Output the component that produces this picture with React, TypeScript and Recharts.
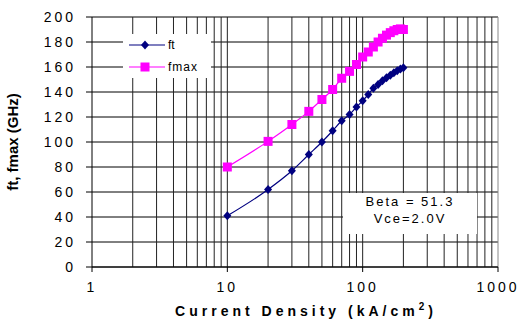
import {
  CartesianGrid,
  Legend,
  Line,
  LineChart,
  ReferenceLine,
  XAxis,
  YAxis,
} from "recharts";

const currentDensity = [10, 20, 30, 40, 50, 60, 70, 80, 90, 100, 110, 120, 130, 140, 150, 160, 170, 180, 190, 200];
const ftValues = [41, 62, 77, 90, 100, 109, 117, 122, 128, 133, 138, 143, 146, 149, 151.5, 153.5, 155.5, 157, 158.5, 159.5];
const fmaxValues = [80, 100.5, 114, 124.5, 134, 142, 151, 156.5, 162, 168, 172, 176, 180, 183, 185.5, 187.5, 189, 190, 190.5, 190];
const xTicks = [1, 10, 100, 1000];
const yTicks = [0, 20, 40, 60, 80, 100, 120, 140, 160, 180, 200];
const gridX = [2, 3, 4, 5, 6, 7, 8, 9, 10, 20, 30, 40, 50, 60, 70, 80, 90, 100, 200, 300, 400, 500, 600, 700, 800, 900];

const FONT = '"Liberation Sans", Arial, sans-serif';
const FT_COLOR = "#000080";
const FMAX_COLOR = "#FF00FF";

const data = currentDensity.map((x, i) => ({ x, ft: ftValues[i], fmax: fmaxValues[i] }));

function Diamond(p: any) {
  const { cx, cy, index } = p;
  return (
    <path
      key={`ft-${index}`}
      d={`M${cx},${cy - 4.5}L${cx + 4},${cy}L${cx},${cy + 4.5}L${cx - 4},${cy}Z`}
      fill={FT_COLOR}
    />
  );
}

function Square(p: any) {
  const { cx, cy, index } = p;
  return <rect key={`fm-${index}`} x={cx - 4.5} y={cy - 4.5} width={9} height={9} fill={FMAX_COLOR} />;
}

function LegendBox() {
  const row = (label: string, color: string, marker: "diamond" | "square", spacing: number) => (
    <div style={{ display: "flex", alignItems: "center", height: 22 }}>
      <svg width={36} height={12} style={{ display: "block" }}>
        <line x1={0} y1={6} x2={36} y2={6} stroke={color} strokeWidth={1.2} />
        {marker === "diamond" ? (
          <path d="M16,1.5L20,6L16,10.5L12,6Z" fill={color} />
        ) : (
          <rect x={11.5} y={1.5} width={9} height={9} fill={color} />
        )}
      </svg>
      <span style={{ marginLeft: 3, fontSize: 12, letterSpacing: spacing, color: "#000" }}>{label}</span>
    </div>
  );
  return (
    <div style={{ width: 88, height: 44, background: "#fff", paddingLeft: 6, boxSizing: "border-box", fontFamily: FONT }}>
      {row("ft", FT_COLOR, "diamond", 0)}
      {row("fmax", FMAX_COLOR, "square", 1)}
    </div>
  );
}

function XLabel(props: any) {
  const { viewBox } = props;
  const cx = viewBox.x + viewBox.width / 2 + 11;
  return (
    <text x={cx} y={316} textAnchor="middle" fontFamily={FONT} fontSize={14} fontWeight="bold" letterSpacing={4} fill="#000">
      Current Density (kA/cm
      <tspan dy={-6} fontSize={10}>2</tspan>
      <tspan dy={6}>)</tspan>
    </text>
  );
}

export default function App() {
  return (
    <div style={{ position: "absolute", left: 0, top: 0, width: 521, height: 320, background: "#fff" }}>
      <LineChart width={521} height={320} data={data} margin={{ top: 17, right: 23, left: 0, bottom: 0 }}>
        <CartesianGrid horizontal vertical={false} stroke="#000" strokeOpacity={1} />
        {gridX.map((v) => (
          <ReferenceLine key={v} x={v} stroke="#222" strokeWidth={1} />
        ))}
        <ReferenceLine x={1000} stroke="#888" strokeWidth={1} />
        <XAxis
          dataKey="x"
          type="number"
          scale="log"
          domain={[1, 1000]}
          ticks={xTicks}
          allowDataOverflow
          height={53}
          tickSize={5}
          tickMargin={10}
          stroke="#000"
          tick={{ fill: "#000", fontSize: 14, fontFamily: FONT, letterSpacing: 3 }}
          label={<XLabel />}
        />
        <YAxis
          type="number"
          domain={[0, 200]}
          ticks={yTicks}
          width={92}
          tickSize={6}
          tickMargin={10}
          stroke="#000"
          tick={{ fill: "#000", fontSize: 14, fontFamily: FONT, letterSpacing: 3 }}
          label={{
            value: "ft, fmax (GHz)",
            angle: -90,
            position: "insideLeft",
            offset: 13,
            style: { fontFamily: FONT, fontSize: 15, fontWeight: "bold", fill: "#000", textAnchor: "middle" },
          }}
        />
        <Legend
          layout="vertical"
          align="center"
          verticalAlign="middle"
          wrapperStyle={{ left: 123, top: 34, width: 88, height: 44 }}
          content={() => <LegendBox />}
        />
        <Line
          type="monotone"
          dataKey="fmax"
          name="fmax"
          stroke={FMAX_COLOR}
          strokeWidth={1.2}
          dot={Square}
          activeDot={false}
          isAnimationActive={false}
        />
        <Line
          type="monotone"
          dataKey="ft"
          name="ft"
          stroke={FT_COLOR}
          strokeWidth={1.2}
          dot={Diamond}
          activeDot={false}
          isAnimationActive={false}
        />
      </LineChart>
      <div
        style={{
          position: "absolute",
          left: 343,
          top: 193,
          width: 134,
          height: 41,
          background: "#fff",
          fontFamily: FONT,
          fontSize: 13,
          letterSpacing: 2,
          lineHeight: "17px",
          textAlign: "center",
          paddingTop: 0,
          boxSizing: "border-box",
          color: "#000",
        }}
      >
        <div>Beta = 51.3</div>
        <div>Vce=2.0V</div>
      </div>
    </div>
  );
}
